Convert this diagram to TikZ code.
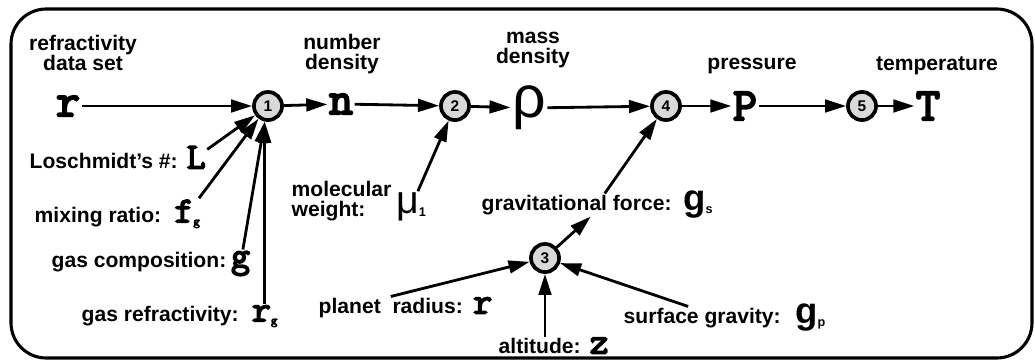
\documentclass[tikz,border=0pt]{standalone}
\usepackage{fontspec}
\setmainfont{Liberation Sans}
\newfontfamily\courfont{Latin Modern Mono}[AutoFakeBold=4.5]
\usetikzlibrary{arrows.meta,positioning}

\newcommand\lblfont{\bfseries\fontsize{15}{14.5}\selectfont}
\newcommand\bigsym{\courfont\bfseries\fontsize{33}{33}\selectfont}
\newcommand\midsym{\courfont\bfseries\fontsize{26}{26}\selectfont}
\newcommand\subsc[1]{\raisebox{-2pt}{\bfseries\fontsize{9}{9}\selectfont #1}}

\begin{document}
\begin{tikzpicture}[
    x=0.025cm, y=-0.025cm,
    proc/.style={circle, draw, line width=2.6pt, fill=gray!30, minimum size=20pt,
                 inner sep=0pt, font=\bfseries\fontsize{11}{11}\selectfont},
    lbl/.style={font=\lblfont, align=center, inner sep=1pt},
    sym/.style={font=\bigsym, inner sep=1pt},
    msym/.style={font=\midsym, inner sep=1pt},
    conn/.style={->, line width=2pt},
    >={Triangle[length=15pt, width=9pt]}
]
    \useasboundingbox (0,0) rectangle (1035,362);
    % frame
    \draw[line width=2.2pt, rounded corners=25pt] (11,9) rectangle (1032,358);

    % main chain
    \node[sym] (r) at (68,106) {r};
    \node[proc] (c1) at (268,106) {1};
    \node[sym] (n) at (341,104) {n};
    \node[proc] (c2) at (455,106) {2};
    \node[font=\fontsize{42}{42}\selectfont, inner sep=1pt] (rho) at (529,108) {ρ};
    \node[proc] (c4) at (666,106) {4};
    \node[sym] (P) at (745,106) {P};
    \node[proc] (c5) at (862,106) {5};
    \node[sym] (T) at (928,106) {T};
    \node[proc] (c3) at (545,258) {3};

    % headings
    \node[lbl] (rtxt) at (83,53) {refractivity\\data set};
    \node[lbl] (ntxt) at (342,54) {number\\density};
    \node[lbl] (rhotxt) at (533,50) {mass\\density};
    \node[lbl] (Ptxt) at (752,66) {pressure};
    \node[lbl] (Ttxt) at (937,66) {temperature};

    % inputs of 1
    \node[lbl, anchor=west] (Ltxt) at (28,161) {Loschmidt's \#:};
    \node[msym, anchor=base west] (L) at ([xshift=4pt]Ltxt.base east) {L};
    \node[lbl, anchor=west] (fgtxt) at (33,217) {mixing ratio:};
    \node[msym, anchor=base west] (fg) at ([xshift=7pt]fgtxt.base east) {f\subsc{g}};
    \node[lbl, anchor=west] (gtxt) at (50,262) {gas composition:};
    \node[msym, anchor=base west] (g) at ([xshift=1pt]gtxt.base east) {g};
    \node[lbl, anchor=west] (rgtxt) at (80,316) {gas refractivity:};
    \node[msym, anchor=base west] (rg) at ([xshift=7pt]rgtxt.base east) {r\subsc{g}};

    % input of 2
    \node[lbl, anchor=west, align=left] (mwtxt) at (290,201) {molecular\\weight:};
    \node[font=\fontsize{28}{28}\selectfont, inner sep=1pt] (mu) at (411,207) {μ\subsc{1}};

    % inputs of 3 and 4
    \node[lbl, anchor=west] (gstxt) at (480,205) {gravitational force:};
    \node[font=\bfseries\fontsize{26}{26}\selectfont, inner sep=1pt, anchor=base west] (gs) at ([xshift=6pt]gstxt.base east) {g\subsc{s}};
    \node[lbl, anchor=west] (prtxt) at (317,308) {planet\ \ radius:};
    \node[msym, anchor=base west] (rp) at ([xshift=5pt]prtxt.base east) {r};
    \node[lbl, anchor=west] (alttxt) at (497,346) {altitude:};
    \node[msym, anchor=base west] (z) at ([xshift=4pt]alttxt.base east) {z};
    \node[lbl, anchor=west] (sgtxt) at (622,318) {surface gravity:};
    \node[font=\bfseries\fontsize{26}{26}\selectfont, inner sep=1pt, anchor=base west] (gp) at ([xshift=8pt]sgtxt.base east) {g\subsc{p}};

    % connectors of the chain
    \draw[conn] (r) -- (c1);
    \draw[conn] (c1) -- (n);
    \draw[conn] (n) -- (c2);
    \draw[conn] (c2) -- (rho);
    \draw[conn] (rho) -- (c4);
    \draw[conn] (c4) -- (P);
    \draw[conn] (P) -- (c5);
    \draw[conn] (c5) -- (T);

    % connectors of the inputs
    \draw[conn] (L) -- (c1);
    \draw[conn] (fg) -- (c1);
    \draw[conn] (g) -- (c1.258);
    \draw[conn] (rg.north) -- (rg.north |- c1.south);
    \draw[conn] (mu) -- (c2);
    \draw[conn] ([xshift=20pt]gstxt.north) -- (c4);
    \draw[conn] (c3) -- ([xshift=10pt]gstxt.south);
    \draw[conn] (prtxt.north) -- (c3);
    \draw[conn] (alttxt.north -| c3) -- (c3);
    \draw[conn] ([xshift=-10pt]sgtxt.north) -- (c3);
\end{tikzpicture}
\end{document}
